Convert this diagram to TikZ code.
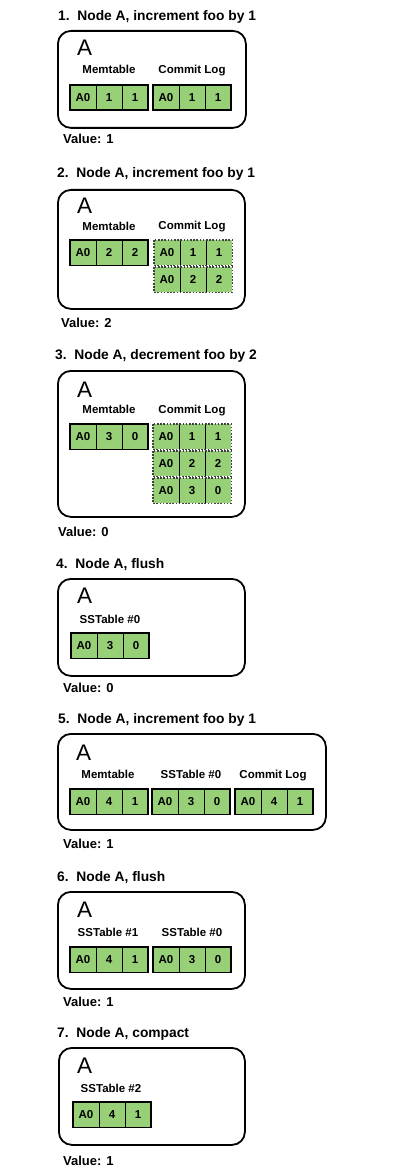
\documentclass[tikz,border=0pt]{standalone}
\usepackage{fontspec}
\setmainfont{Liberation Sans}
\definecolor{cellgreen}{HTML}{97D077}
\tikzset{
  cell/.style={fill=cellgreen, minimum width=25.67pt, minimum height=25pt, inner sep=0pt, anchor=north west, font=\bfseries\fontsize{11.5}{11.5}\selectfont},
  divider/.style={line width=0.8pt, black},
  solidframe/.style={line width=1.8pt, black},
  dotframe/.style={line width=1.3pt, black!75, dash pattern=on 1.6pt off 1.6pt},
  nodebox/.style={draw, line width=1.8pt, rounded corners=13pt, inner sep=0pt, anchor=north west},
  titletext/.style={anchor=base west, inner sep=0pt, font=\bfseries\fontsize{13.8}{14}\selectfont},
  valtext/.style={anchor=base west, inner sep=0pt, font=\bfseries\fontsize{13}{13}\selectfont},
  bigA/.style={anchor=base west, inner sep=0pt, font=\fontsize{22.5}{22.5}\selectfont},
  lbl/.style={anchor=base, inner sep=0pt, font=\bfseries\fontsize{11.5}{12}\selectfont},
}
\newcommand\grp[7]{%
  \node[cell] (#1a) at (#2+1,#3+1) {#4};
  \node[cell] (#1b) at (#1a.north east) {#5};
  \node[cell] (#1c) at (#1b.north east) {#6};
  \draw[divider] (#1a.north east) -- (#1a.south east) (#1b.north east) -- (#1b.south east);
  \draw[#7] (#1a.north west) rectangle (#1c.south east);
}
\newcommand\panelbox[5]{%
  \node[nodebox, minimum width=#4pt-#2pt, minimum height=#5pt-#3pt] (#1) at (#2,#3) {};
}
\begin{document}
\begin{tikzpicture}[x=1pt,y=-1pt]
\useasboundingbox (0,0) rectangle (412,1169);
% Panel 1
\node[titletext] (t1) at (58,21) {1.\ \ Node A, increment foo by 1};
\panelbox{b1}{57}{30}{245}{127}
\node[bigA] (a1) at (77,56) {A};
\node[lbl] (l1m) at (109,74) {Memtable};
\node[lbl] (l1c) at (192,74) {Commit Log};
\grp{p1m}{69}{84}{A0}{1}{1}{solidframe}
\grp{p1c}{152}{84}{A0}{1}{1}{solidframe}
\node[valtext] (v1) at (63,144) {Value: 1};
% Panel 2
\node[titletext] (t2) at (57,178) {2.\ \ Node A, increment foo by 1};
\panelbox{b2}{57}{189}{244}{308}
\node[bigA] (a2) at (77,213) {A};
\node[lbl] (l2m) at (109,230) {Memtable};
\node[lbl] (l2c) at (192,229) {Commit Log};
\grp{p2m}{69}{239}{A0}{2}{2}{solidframe}
\grp{p2r}{153}{239}{A0}{1}{1}{dotframe}
\grp{p2s}{153}{266}{A0}{2}{2}{dotframe}
\node[valtext] (v2) at (61,327) {Value: 2};
% Panel 3
\node[titletext] (t3) at (55,359) {3.\ \ Node A, decrement foo by 2};
\panelbox{b3}{57}{370}{244}{516}
\node[bigA] (a3) at (77,397) {A};
\node[lbl] (l3m) at (109,413) {Memtable};
\node[lbl] (l3c) at (192,413) {Commit Log};
\grp{p3m}{69}{423}{A0}{3}{0}{solidframe}
\grp{p3r}{152}{423}{A0}{1}{1}{dotframe}
\grp{p3s}{152}{450}{A0}{2}{2}{dotframe}
\grp{p3t}{152}{477}{A0}{3}{0}{dotframe}
\node[valtext] (v3) at (58,536) {Value: 0};
% Panel 4
\node[titletext] (t4) at (56,568) {4.\ \ Node A, flush};
\panelbox{b4}{57}{578}{244}{675}
\node[bigA] (a4) at (77,603) {A};
\node[lbl] (l4s) at (110,623) {SSTable \#0};
\grp{p4s}{70}{632}{A0}{3}{0}{solidframe}
\node[valtext] (v4) at (63,692) {Value: 0};
% Panel 5
\node[titletext] (t5) at (58,723) {5.\ \ Node A, increment foo by 1};
\panelbox{b5}{57}{733}{325}{829}
\node[bigA] (a5) at (76,760) {A};
\node[lbl] (l5m) at (108,778) {Memtable};
\node[lbl] (l5s) at (191,778) {SSTable \#0};
\node[lbl] (l5c) at (273,778) {Commit Log};
\grp{p5m}{69}{788}{A0}{4}{1}{solidframe}
\grp{p5s}{151}{788}{A0}{3}{0}{solidframe}
\grp{p5c}{234}{788}{A0}{4}{1}{solidframe}
\node[valtext] (v5) at (63,848) {Value: 1};
% Panel 6
\node[titletext] (t6) at (57,881) {6.\ \ Node A, flush};
\panelbox{b6}{57}{891}{244}{988}
\node[bigA] (a6) at (77,917) {A};
\node[lbl] (l6a) at (108,936) {SSTable \#1};
\node[lbl] (l6b) at (192,936) {SSTable \#0};
\grp{p6a}{69}{946}{A0}{4}{1}{solidframe}
\grp{p6b}{152}{946}{A0}{3}{0}{solidframe}
\node[valtext] (v6) at (63,1006) {Value: 1};
% Panel 7
\node[titletext] (t7) at (57,1037) {7.\ \ Node A, compact};
\panelbox{b7}{58}{1047}{244}{1144}
\node[bigA] (a7) at (77,1073) {A};
\node[lbl] (l7s) at (111,1092) {SSTable \#2};
\grp{p7s}{72}{1101}{A0}{4}{1}{solidframe}
\node[valtext] (v7) at (63,1165) {Value: 1};
\end{tikzpicture}
\end{document}
